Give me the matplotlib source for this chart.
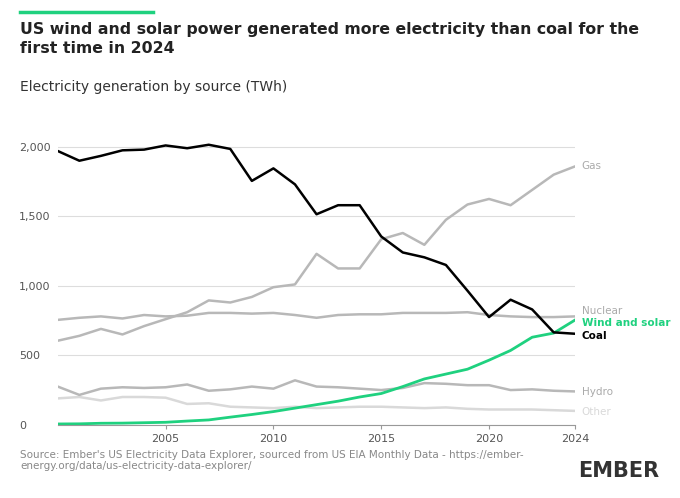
import matplotlib.pyplot as plt

years = list(range(2000, 2025))
coal = [1970, 1900, 1935, 1975, 1980, 2010, 1990, 2015, 1985, 1755, 1845, 1730, 1515,
        1580, 1580, 1355, 1240, 1205, 1150, 965, 775, 900, 830, 665, 655]
gas = [605, 640, 690, 650, 710, 760, 810, 895, 880, 920, 990, 1010, 1230, 1125, 1125,
       1335, 1380, 1295, 1475, 1585, 1625, 1580, 1690, 1800, 1860]
nuclear = [755, 770, 780, 765, 790, 780, 785, 805, 805, 800, 805, 790, 770, 790, 795,
           795, 805, 805, 805, 810, 790, 780, 775, 775, 780]
wind_solar = [6, 7, 11, 12, 15, 18, 27, 35, 55, 74, 95, 120, 145, 170, 200, 225, 275,
              330, 365, 400, 465, 535, 630, 660, 755]
hydro = [275, 215, 260, 270, 265, 270, 290, 245, 255, 275, 260, 320, 275, 270, 260,
         250, 265, 300, 295, 285, 285, 250, 255, 245, 240]
other = [190, 200, 175, 200, 200, 195, 150, 155, 130, 125, 120, 130, 120, 125, 130,
         130, 125, 120, 125, 115, 110, 110, 110, 105, 100]

green = '#1fd17f'
grey = '#b8b8b8'
light = '#d9d9d9'

fig = plt.figure(figsize=(6.8, 4.98), dpi=100)
ax = fig.add_axes([0.085, 0.147, 0.761, 0.6])

ax.plot(years, other, color=light, lw=1.8)
ax.plot(years, hydro, color=grey, lw=1.8)
ax.plot(years, nuclear, color=grey, lw=1.8)
ax.plot(years, gas, color=grey, lw=1.8)
ax.plot(years, wind_solar, color=green, lw=2)
ax.plot(years, coal, color='black', lw=1.8)

ax.set_xlim(2000, 2024)
ax.set_ylim(0, 2150)
ax.set_yticks([0, 500, 1000, 1500, 2000])
ax.set_yticklabels(['0', '500', '1,000', '1,500', '2,000'])
ax.set_xticks([2005, 2010, 2015, 2020, 2024])
ax.grid(axis='y', color='#dddddd', lw=0.8)
ax.set_axisbelow(True)
for s in ['top', 'right', 'left']:
    ax.spines[s].set_visible(False)
ax.spines['bottom'].set_color('#999999')
ax.tick_params(axis='y', length=0, labelsize=8, colors='#555555', pad=-2)
ax.tick_params(axis='x', length=3, labelsize=8, colors='#555555', color='#999999')
for lab in ax.get_yticklabels():
    lab.set_horizontalalignment('left')
    lab.set_x(-0.08)

lx = 2024.3
ax.text(lx, gas[-1], 'Gas', color='#aaaaaa', fontsize=7.5, va='center', clip_on=False)
ax.text(lx, 820, 'Nuclear', color='#aaaaaa', fontsize=7.5, va='center', clip_on=False)
ax.text(lx, 735, 'Wind and solar', color=green, fontsize=7.5, va='center',
        fontweight='bold', clip_on=False)
ax.text(lx, 640, 'Coal', color='black', fontsize=7.5, va='center', fontweight='bold',
        clip_on=False)
ax.text(lx, 235, 'Hydro', color='#aaaaaa', fontsize=7.5, va='center', clip_on=False)
ax.text(lx, 95, 'Other', color=light, fontsize=7.5, va='center', clip_on=False)

fig.add_artist(plt.Line2D([0.03, 0.225], [0.975, 0.975], color=green, lw=2.5))
fig.text(0.03, 0.955, 'US wind and solar power generated more electricity than coal for the\nfirst time in 2024',
         fontsize=11.3, fontweight='bold', va='top', color='#222222', linespacing=1.3)
fig.text(0.03, 0.84, 'Electricity generation by source (TWh)', fontsize=10, va='top',
         color='#333333')
fig.text(0.03, 0.075, "Source: Ember's US Electricity Data Explorer, sourced from US EIA Monthly Data - https://ember-\nenergy.org/data/us-electricity-data-explorer/",
         fontsize=7.5, va='center', color='#888888')
fig.text(0.97, 0.055, 'EMBER', fontsize=15, fontweight='bold', ha='right', va='center',
         color='#333333')

fig.savefig('out.png', dpi=100)
